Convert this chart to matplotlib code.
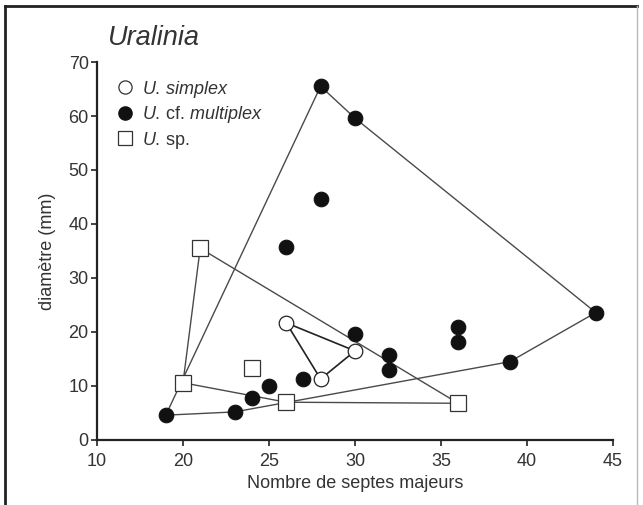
import matplotlib
matplotlib.use("Agg")
import matplotlib.pyplot as plt
from matplotlib.lines import Line2D

plt.rcParams['font.family'] = ['Liberation Sans', 'DejaVu Sans']
plt.rcParams['mathtext.fontset'] = 'custom'
plt.rcParams['mathtext.rm'] = 'Liberation Sans'
plt.rcParams['mathtext.it'] = 'Liberation Sans:italic'

# Data
simplex_x = [26, 30, 28]
simplex_y = [21.7, 16.5, 11.3]

multiplex_x = [19, 23, 24, 25, 27, 26, 30, 28, 30, 28, 32, 32, 36, 36, 39, 44]
multiplex_y = [4.6, 5.2, 7.7, 10.0, 11.3, 35.7, 19.6, 65.5, 59.6, 44.7, 15.7, 13.0, 21.0, 18.1, 14.5, 23.6]

sp_x = [21, 20, 24, 26, 36]
sp_y = [35.5, 10.6, 13.4, 7.0, 6.8]

# outlines (polygons through data points)
simplex_hull_x = [26, 30, 28, 26]
simplex_hull_y = [21.7, 16.5, 11.3, 21.7]
multiplex_hull_x = [19, 28, 30, 44, 39, 23, 19]
multiplex_hull_y = [4.6, 65.5, 59.6, 23.6, 14.5, 5.2, 4.6]
sp_hull_x = [21, 36, 26, 20, 21]
sp_hull_y = [35.5, 6.8, 7.0, 10.6, 35.5]

xticks = [15, 20, 25, 30, 35, 40, 45]
xticklabels = ["10", "20", "25", "30", "35", "40", "45"]
yticks = [0, 10, 20, 30, 40, 50, 60, 70]

fig = plt.figure(figsize=(6.43, 5.05), dpi=100)
ax = fig.add_axes([97/643, 1-440/505, (613-97)/643, (440-62)/505])

lc = '#4a4a4a'
lw = 1.0
ax.plot(multiplex_hull_x, multiplex_hull_y, color=lc, lw=lw, zorder=1)
ax.plot(sp_hull_x, sp_hull_y, color=lc, lw=lw, zorder=1)
ax.plot(simplex_hull_x, simplex_hull_y, color='#222222', lw=1.2, zorder=1)

ax.plot(multiplex_x, multiplex_y, 'o', ms=10.5, mfc='#111111', mec='#111111', mew=0.8, ls='none', zorder=3)
ax.plot(simplex_x, simplex_y, 'o', ms=10.5, mfc='white', mec='#222222', mew=0.9, ls='none', zorder=3)
ax.plot(sp_x, sp_y, 's', ms=11, mfc='white', mec='#333333', mew=0.9, ls='none', zorder=3)

ax.set_xlim(15, 45)
ax.set_ylim(0, 70)
ax.set_xticks(xticks)
ax.set_xticklabels(xticklabels)
ax.set_yticks(yticks)
for s in ['top', 'right']:
    ax.spines[s].set_visible(False)
for s in ['left', 'bottom']:
    ax.spines[s].set_linewidth(1.6)
    ax.spines[s].set_color('#222222')
ax.tick_params(direction='out', length=4, width=1.2, color='#222222',
               labelsize=13, labelcolor='#333333', pad=2)
ax.tick_params(axis='x', pad=5)
ax.set_xlabel("Nombre de septes majeurs", fontsize=13, color='#333333', labelpad=4)
ax.set_ylabel("diamètre (mm)", fontsize=13, color='#333333', labelpad=9)

handles = [
    Line2D([], [], marker='o', ls='none', ms=9.5, mfc='white', mec='#333333', mew=0.9),
    Line2D([], [], marker='o', ls='none', ms=9.5, mfc='#111111', mec='#111111'),
    Line2D([], [], marker='s', ls='none', ms=9.5, mfc='white', mec='#333333', mew=0.9),
]
labels = [r"$\it{U.\,simplex}$", r"$\it{U.}\,$cf. $\it{multiplex}$", r"$\it{U.}\,$sp."]
leg = ax.legend(handles, labels, loc='upper left', bbox_to_anchor=(0.015, 0.985),
                frameon=False, fontsize=13, handletextpad=0.45, labelspacing=0.25,
                handlelength=1.0, borderaxespad=0.2)
for t in leg.get_texts():
    t.set_color('#333333')

fig.text(108/643, 1-38/505, "Uralinia", fontsize=19.5, style='italic',
         color='#333333', va='center', ha='left')

# figure border
fig.add_artist(Line2D([5/643, 5/643], [0, 1-6/505], transform=fig.transFigure, color='#222222', lw=2))
fig.add_artist(Line2D([5/643, 637/643], [1-6/505, 1-6/505], transform=fig.transFigure, color='#222222', lw=2))
fig.add_artist(Line2D([637/643, 637/643], [0, 1-6/505], transform=fig.transFigure, color='#bbbbbb', lw=1))

fig.savefig("out.png", dpi=100)
